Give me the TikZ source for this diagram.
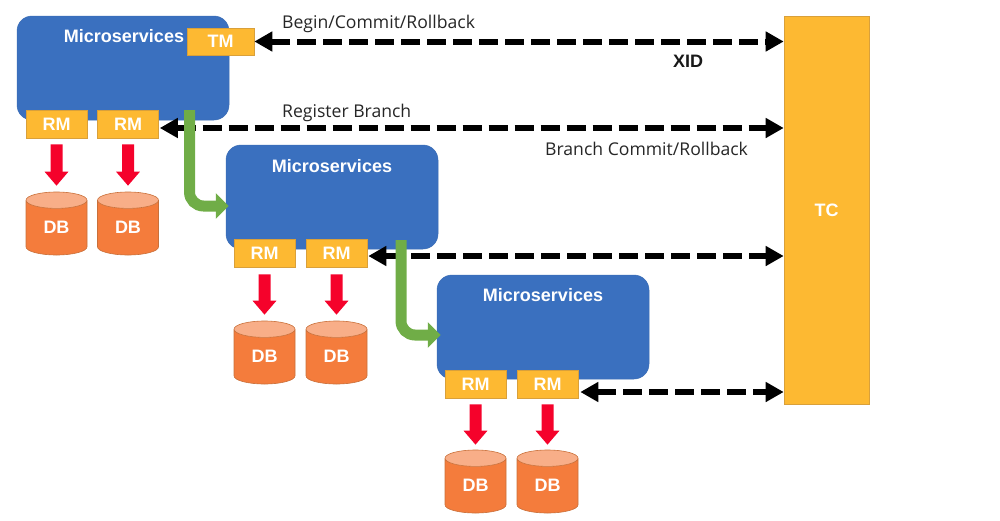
\documentclass[tikz,border=0pt]{standalone}
\usepackage{fontspec}
\setmainfont{Liberation Sans}
\newfontfamily\capfont{Open Sans}
\usetikzlibrary{shapes.geometric,arrows.meta,calc}
\definecolor{msblue}{HTML}{3A70BF}
\definecolor{msedge}{HTML}{3A6DB5}
\definecolor{amber}{HTML}{FDB932}
\definecolor{amberedge}{HTML}{D9A03A}
\definecolor{dbfill}{HTML}{F47C3C}
\definecolor{dbtop}{HTML}{F8AE88}
\definecolor{dbedge}{HTML}{C9703A}
\definecolor{redarrow}{HTML}{F5022B}
\definecolor{greenarrow}{HTML}{70AD47}
\tikzset{
  msbox/.style={draw=msedge,line width=.5pt,fill=msblue,rounded corners=15pt,minimum width=212pt,minimum height=104pt,inner sep=0pt},
  mslabel/.style={text=white,font=\fontsize{18}{20}\selectfont\bfseries,inner sep=0pt},
  rmbox/.style={draw=amberedge,line width=.6pt,fill=amber,minimum width=61pt,minimum height=28pt,inner sep=0pt,text=white,font=\fontsize{18}{20}\selectfont\bfseries},
  tcbox/.style={draw=amberedge,line width=.6pt,fill=amber,minimum width=85pt,minimum height=388pt,inner sep=0pt,text=white,font=\fontsize{18}{20}\selectfont\bfseries},
  dbcyl/.style={cylinder,shape border rotate=90,aspect=.63,anchor=shape center,draw=dbedge,line width=.6pt,cylinder uses custom fill,cylinder body fill=dbfill,cylinder end fill=dbtop,minimum width=61pt,minimum height=63pt,inner sep=0pt,text=white,font=\fontsize{18}{20}\selectfont\bfseries},
  redflow/.style={-{Triangle[length=14pt,width=23pt]},redarrow,line width=12pt},
  greenflow/.style={-{Triangle[length=13pt,width=25pt]},greenarrow,line width=11pt,rounded corners=14pt},
  dashflow/.style={{Triangle[length=18pt,width=19pt]}-{Triangle[length=18pt,width=19pt]},black,line width=6pt,dash pattern=on 19pt off 7pt},
  caption/.style={text=black!85,font=\capfont\fontsize{17.6}{20}\selectfont,inner sep=0pt,anchor=base west},
  xidlabel/.style={text=black!90,font=\fontsize{18}{20}\selectfont\bfseries,inner sep=0pt},
}
\begin{document}
\begin{tikzpicture}[x=1pt,y=-1pt]
\useasboundingbox (0,0) rectangle (1000,520);
\node[tcbox] (tc) at (826.5,210) {TC};
% services
\node[msbox] (ms1) at (123,68) {};
\node[msbox] (ms2) at (332,197) {};
\node[msbox] (ms3) at (543,327) {};
\node[mslabel] (ms1t) at (124,36) {Microservices};
\node[mslabel] (ms2t) at (332,166) {Microservices};
\node[mslabel] (ms3t) at (543,295) {Microservices};
% databases
\node[dbcyl] (db11) at (56.5,223.5) {DB};
\node[dbcyl] (db12) at (128,223.5) {DB};
\node[dbcyl] (db21) at (264.5,352.5) {DB};
\node[dbcyl] (db22) at (336.5,352.5) {DB};
\node[dbcyl] (db31) at (475.5,481.5) {DB};
\node[dbcyl] (db32) at (547.5,481.5) {DB};
% resource managers
\node[rmbox] (rm11) at (56.5,124) {RM};
\node[rmbox] (rm12) at (128,124) {RM};
\node[rmbox] (rm21) at (264.5,253) {RM};
\node[rmbox] (rm22) at (336.5,253) {RM};
\node[rmbox] (rm31) at (475.5,384) {RM};
\node[rmbox] (rm32) at (547.5,384) {RM};
\node[rmbox,minimum width=67pt,minimum height=27pt] (tm) at (220.5,41.5) {TM};
% dashed
\draw[dashflow] (tm.east) -- (tc.west |- tm.east);
\draw[dashflow] ([xshift=1pt,yshift=-4pt]rm12.east) -- (tc.west |- {0,128});
\draw[dashflow] ([xshift=1pt,yshift=-3pt]rm22.east) -- (tc.west |- {0,256});
\draw[dashflow] ([xshift=2pt,yshift=-8pt]rm32.east) -- (tc.west |- {0,392});
% red
\draw[redflow] ([yshift=-6pt]rm11.south) -- ([yshift=6pt]db11.north);
\draw[redflow] ([yshift=-6pt]rm12.south) -- ([yshift=6pt]db12.north);
\draw[redflow] ([yshift=-7pt]rm21.south) -- ([yshift=6pt]db21.north);
\draw[redflow] ([yshift=-7pt]rm22.south) -- ([yshift=6pt]db22.north);
\draw[redflow] ([yshift=-6pt]rm31.south) -- ([yshift=5pt]db31.north);
\draw[redflow] ([yshift=-6pt]rm32.south) -- ([yshift=5pt]db32.north);
% green
\coordinate (g1) at (189.5,110);
\coordinate (g2) at (401,240);
\draw[greenflow] (g1) |- ([yshift=-9pt,xshift=3pt]ms2.west);
\draw[greenflow] (g2) |- ([yshift=-8pt,xshift=4pt]ms3.west);
% captions
\node[caption] (c1) at (282,28) {Begin/Commit/Rollback};
\node[caption] (c2) at (282,117) {Register Branch};
\node[caption] (c3) at (545,155) {Branch Commit/Rollback};
\node[xidlabel] (xid) at (688,61) {XID};
\end{tikzpicture}
\end{document}
